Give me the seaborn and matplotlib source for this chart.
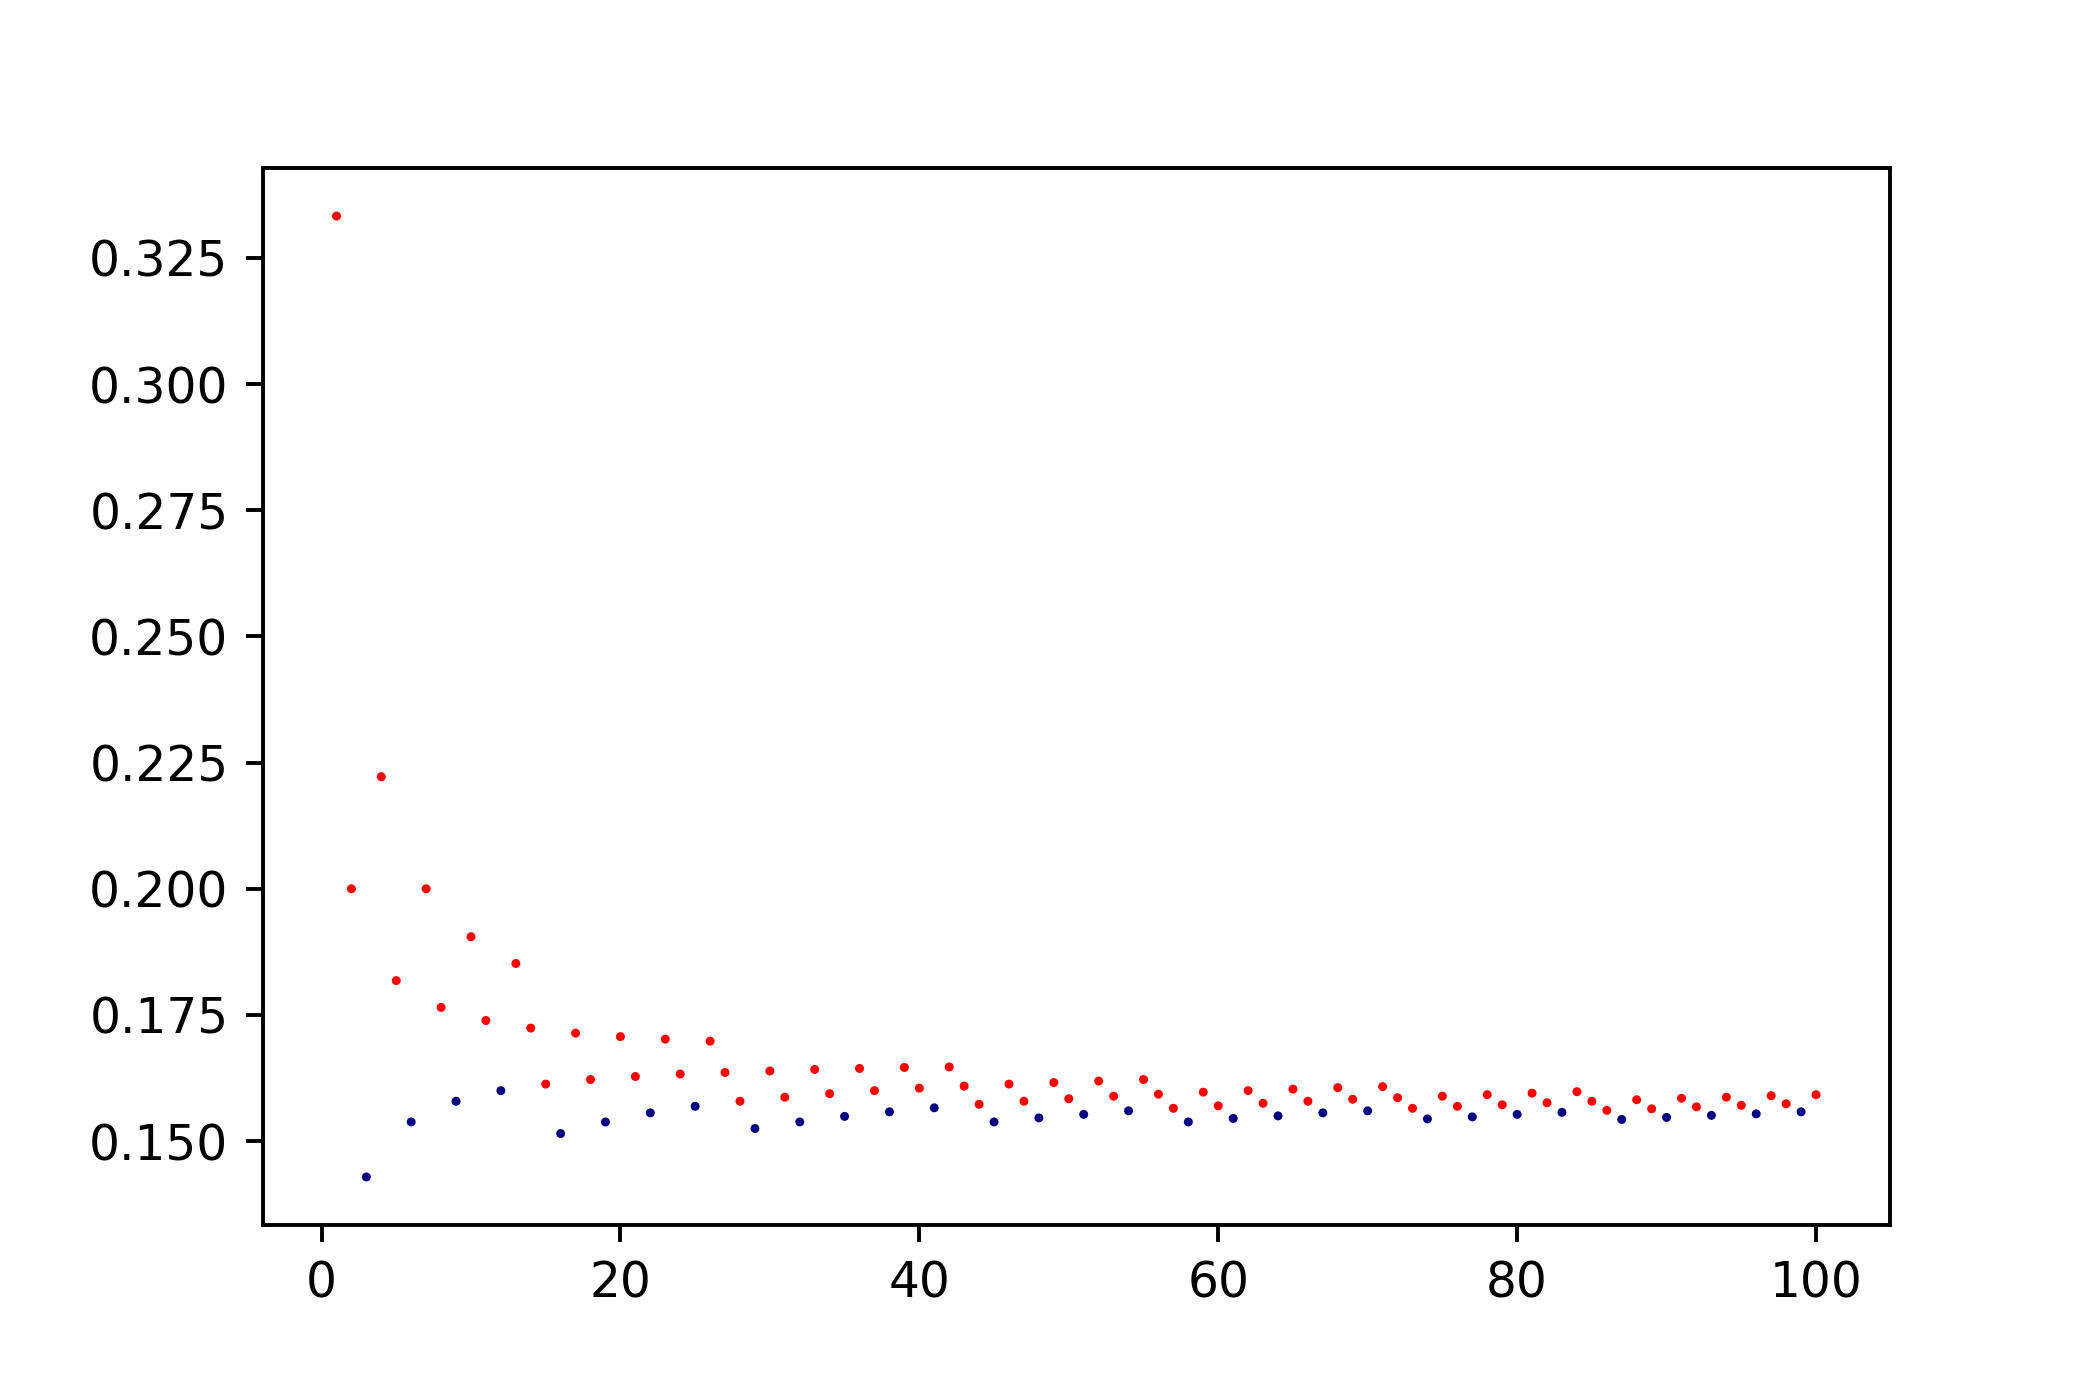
import matplotlib
matplotlib.use("Agg")
import matplotlib.pyplot as plt
import seaborn as sns
import pandas as pd

# values, one per step 1..100
steps = list(range(1, 101))
values = [
    0.3333, 0.2000, 0.1429, 0.2222, 0.1818, 0.1538, 0.2000, 0.1765, 0.1579, 0.1905,
    0.1739, 0.1600, 0.1852, 0.1724, 0.1613, 0.1515, 0.1714, 0.1622, 0.1538, 0.1707,
    0.1628, 0.1556, 0.1702, 0.1633, 0.1569, 0.1698, 0.1636, 0.1579, 0.1525, 0.1639,
    0.1587, 0.1538, 0.1642, 0.1594, 0.1549, 0.1644, 0.1600, 0.1558, 0.1646, 0.1605,
    0.1566, 0.1647, 0.1609, 0.1573, 0.1538, 0.1613, 0.1579, 0.1546, 0.1616, 0.1584,
    0.1553, 0.1619, 0.1589, 0.1560, 0.1622, 0.1593, 0.1565, 0.1538, 0.1597, 0.1570,
    0.1545, 0.1600, 0.1575, 0.1550, 0.1603, 0.1579, 0.1556, 0.1606, 0.1583, 0.1560,
    0.1608, 0.1586, 0.1565, 0.1544, 0.1589, 0.1569, 0.1548, 0.1592, 0.1572, 0.1553,
    0.1595, 0.1576, 0.1557, 0.1598, 0.1579, 0.1561, 0.1543, 0.1582, 0.1564, 0.1547,
    0.1585, 0.1568, 0.1551, 0.1587, 0.1571, 0.1554, 0.1590, 0.1574, 0.1558, 0.1592,
]
# steps drawn in navy, the rest are red
navy_steps = [3, 6, 9, 12, 16, 19, 22, 25, 29, 32, 35, 38, 41, 45, 48, 51, 54,
              58, 61, 64, 67, 70, 74, 77, 80, 83, 87, 90, 93, 96, 99]

df = pd.DataFrame({"step": steps, "value": values})
df["group"] = ["navy" if s in navy_steps else "red" for s in steps]

fig, ax = plt.subplots(figsize=(6, 4), dpi=350)
fig.subplots_adjust(left=0.125, right=0.9, bottom=0.125, top=0.88)

sns.scatterplot(data=df, x="step", y="value", hue="group",
                palette={"red": "#ff0000", "navy": "#000080"},
                s=3.4, linewidth=0, legend=False, ax=ax)

ax.set_xlabel("")
ax.set_ylabel("")
ax.set_xticks([0, 20, 40, 60, 80, 100])
ax.set_yticks([0.150, 0.175, 0.200, 0.225, 0.250, 0.275, 0.300, 0.325])
ax.set_yticklabels(["0.150", "0.175", "0.200", "0.225", "0.250", "0.275", "0.300", "0.325"])

plt.savefig("out.png", dpi=350)
